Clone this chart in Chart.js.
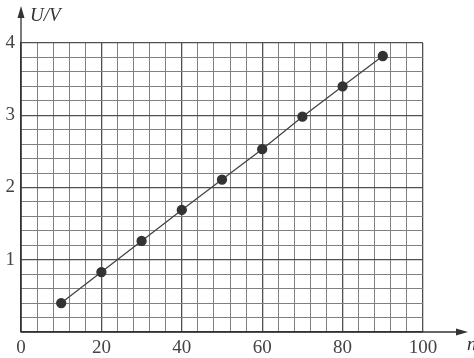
<!DOCTYPE html>
<html>
<head>
<meta charset="utf-8">
<script src="https://cdn.jsdelivr.net/npm/chart.js@4"></script>
<style>
html,body{margin:0;padding:0;background:#fff;}
#wrap{width:474px;height:358px;position:relative;}
</style>
</head>
<body>
<div id="wrap"><canvas id="c" width="474" height="358"></canvas></div>
<script>
const nValues = [10, 20, 30, 40, 50, 60, 70, 80, 90];
const uValues = [0.40, 0.83, 1.26, 1.69, 2.11, 2.53, 2.98, 3.40, 3.82];
const xTickLabels = [0, 20, 40, 60, 80, 100];
const yTickLabels = [1, 2, 3, 4];
const xGridStep = 4;
const yGridStep = 0.2;
const xAxisTitle = 'n';
const yAxisTitle = 'U/V';

const FONT = '"Liberation Serif", "DejaVu Serif", serif';
const points = nValues.map((n, i) => ({x: n, y: uValues[i]}));

const isMajorX = v => xTickLabels.some(t => Math.abs(t - v) < 1e-6);
const isMajorY = v => yTickLabels.some(t => Math.abs(t - v) < 1e-6) || Math.abs(v) < 1e-6;

function gridTicks(min, max, step) {
  const out = [];
  const n = Math.round((max - min) / step);
  for (let i = 0; i <= n; i++) out.push({value: +(min + i * step).toFixed(6)});
  return out;
}

const axesArrows = {
  id: 'axesArrows',
  afterDraw(chart) {
    const ctx = chart.ctx;
    const x0 = chart.scales.x.getPixelForValue(0);
    const y0 = chart.scales.y.getPixelForValue(0);
    ctx.save();
    ctx.strokeStyle = '#333';
    ctx.fillStyle = '#333';
    ctx.lineWidth = 1.3;
    ctx.beginPath();
    ctx.moveTo(x0, y0); ctx.lineTo(x0, 14);
    ctx.moveTo(x0, y0); ctx.lineTo(458, y0);
    ctx.stroke();
    ctx.beginPath();
    ctx.moveTo(x0, 6); ctx.lineTo(x0 - 3.5, 18); ctx.lineTo(x0 + 3.5, 18); ctx.closePath(); ctx.fill();
    ctx.beginPath();
    ctx.moveTo(468, y0); ctx.lineTo(456, y0 - 3.5); ctx.lineTo(456, y0 + 3.5); ctx.closePath(); ctx.fill();
    ctx.font = 'italic 19px ' + FONT;
    ctx.textBaseline = 'alphabetic';
    ctx.fillStyle = '#333';
    ctx.fillText(yAxisTitle, 30, 21);
    ctx.fillText(xAxisTitle, 467, 350);
    ctx.restore();
  }
};

new Chart(document.getElementById('c'), {
  type: 'scatter',
  data: {
    datasets: [{
      data: points,
      showLine: true,
      borderColor: '#444',
      borderWidth: 1.3,
      backgroundColor: '#333',
      pointBackgroundColor: '#333',
      pointBorderColor: '#333',
      pointRadius: 4.5,
      pointHoverRadius: 4.5
    }]
  },
  options: {
    responsive: false,
    animation: false,
    events: [],
    layout: {padding: {top: 43, right: 51, left: 0, bottom: 0}},
    plugins: {legend: {display: false}, tooltip: {enabled: false}},
    scales: {
      x: {
        type: 'linear', min: 0, max: 100,
        afterBuildTicks(s) { s.ticks = gridTicks(0, 100, xGridStep); },
        afterFit(s) { s.height = 26; },
        border: {display: true, color: '#333', width: 1.3},
        grid: {
          drawTicks: false,
          color: ctx => isMajorX(ctx.tick.value) ? '#505050' : '#808080',
          lineWidth: ctx => isMajorX(ctx.tick.value) ? 1.3 : 1
        },
        ticks: {
          autoSkip: false,
          maxRotation: 0,
          padding: 5,
          color: '#444',
          font: {family: FONT, size: 19},
          callback: v => isMajorX(v) ? String(v) : ''
        }
      },
      y: {
        type: 'linear', min: 0, max: 4,
        afterBuildTicks(s) { s.ticks = gridTicks(0, 4, yGridStep); },
        afterFit(s) { s.width = 21; },
        border: {display: true, color: '#333', width: 1.3},
        grid: {
          drawTicks: false,
          color: ctx => isMajorY(ctx.tick.value) ? '#505050' : '#808080',
          lineWidth: ctx => isMajorY(ctx.tick.value) ? 1.3 : 1
        },
        ticks: {
          autoSkip: false,
          padding: 6,
          color: '#444',
          font: {family: FONT, size: 19},
          callback: v => (yTickLabels.some(t => Math.abs(t - v) < 1e-6)) ? String(Math.round(v)) : ''
        }
      }
    }
  },
  plugins: [axesArrows]
});
</script>
</body>
</html>
